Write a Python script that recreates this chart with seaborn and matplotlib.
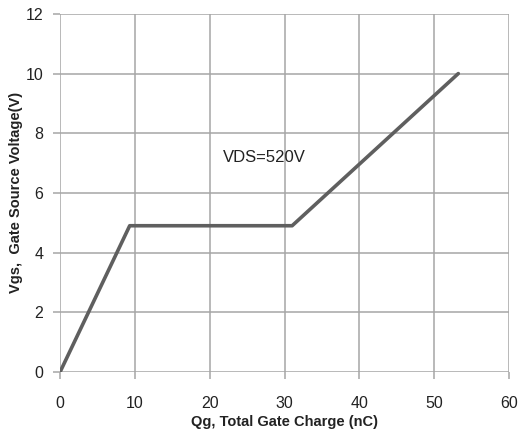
import matplotlib
matplotlib.use("Agg")
import matplotlib.pyplot as plt
import seaborn as sns
import pandas as pd

qg = [0, 9.3, 31.0, 53.2]
vgs = [0, 4.9, 4.9, 10.0]
x_ticks = [0, 10, 20, 30, 40, 50, 60]
y_ticks = [0, 2, 4, 6, 8, 10, 12]

sns.set_theme(style="white")
plt.rcParams['font.family'] = ['Liberation Sans', 'DejaVu Sans']

df = pd.DataFrame({"Qg": qg, "Vgs": vgs})

fig = plt.figure(figsize=(5.18, 4.34), dpi=100)
ax = fig.add_axes([0.116, 0.143, 0.867, 0.825])

sns.lineplot(data=df, x="Qg", y="Vgs", ax=ax, color="#5f5f5f", linewidth=2.6,
             sort=False, zorder=3)

ax.set_xlim(0, 60)
ax.set_ylim(0, 12)
ax.set_xticks(x_ticks)
ax.set_yticks(y_ticks)
ax.grid(True, color="#a6a6a6", linewidth=1.1)
for s in ax.spines.values():
    s.set_visible(False)
ax.tick_params(axis="both", which="both", length=5, width=1.1, color="#a6a6a6",
               labelsize=11.5, labelcolor="#222222")
ax.tick_params(axis="x", bottom=True, pad=12)
ax.tick_params(axis="y", left=True, pad=7)

ax.set_xlabel("Qg, Total Gate Charge (nC)", fontsize=10.5, fontweight="bold",
              color="#222222", labelpad=3)
ax.set_ylabel("Vgs,  Gate Source Voltage(V)", fontsize=10.5, fontweight="bold",
              color="#222222", labelpad=2)

ax.text(21.7, 7.2, "VDS=520V", fontsize=12, color="#222222", va="center", ha="left")

fig.savefig("out.png", dpi=100)
